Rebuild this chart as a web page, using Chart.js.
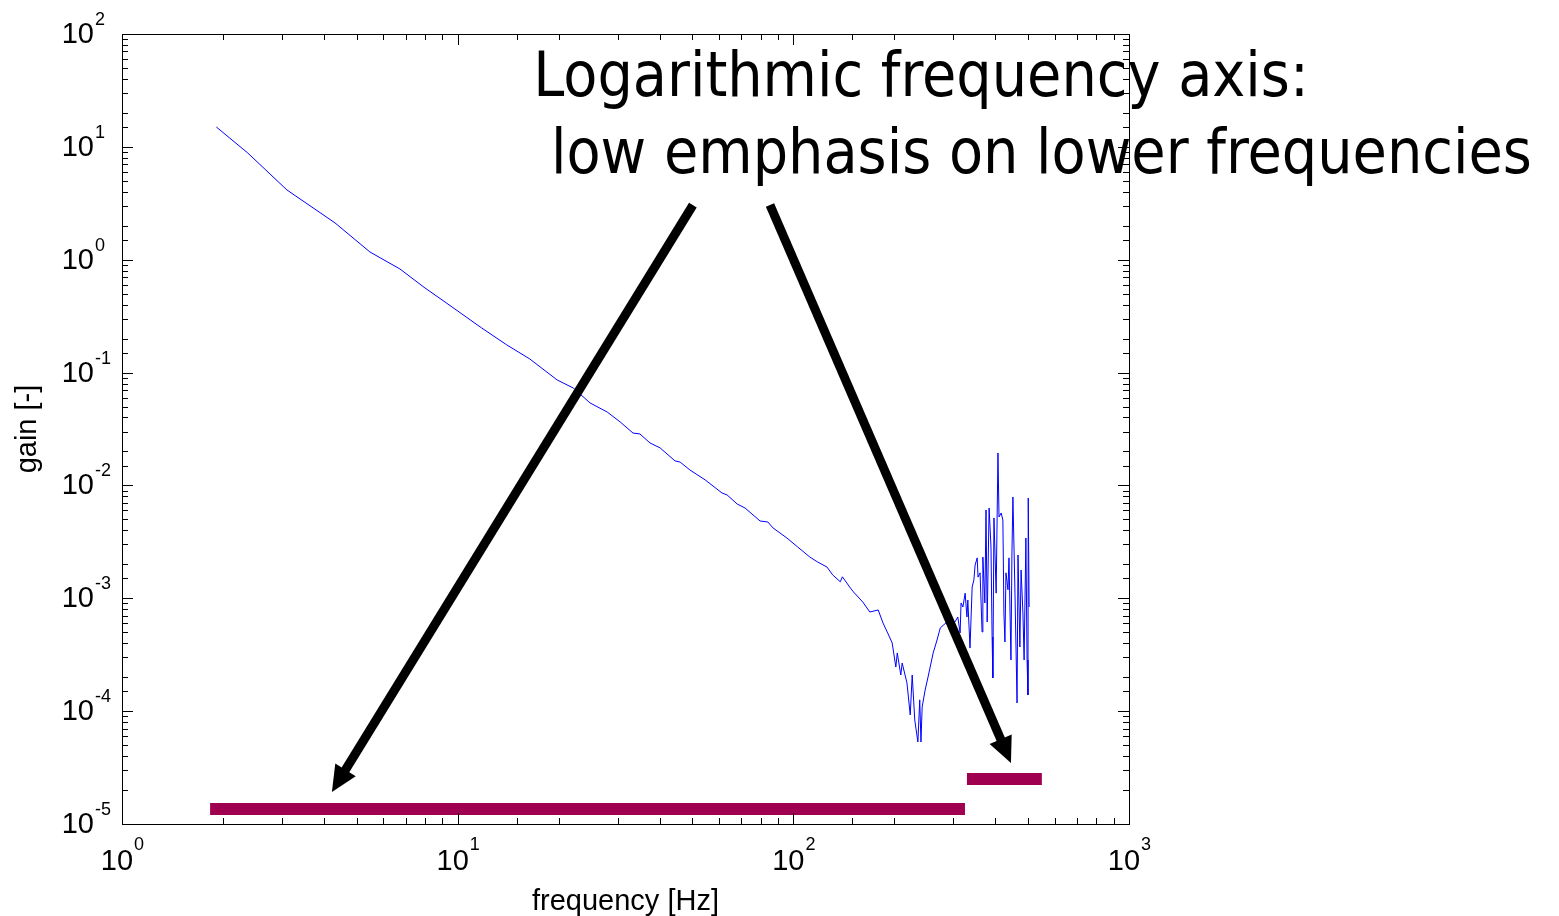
<!DOCTYPE html>
<html>
<head>
<meta charset="utf-8">
<title>gain vs frequency</title>
<script src="https://cdn.jsdelivr.net/npm/chart.js@4.4.1/dist/chart.umd.min.js"></script>
<style>
    html, body { margin: 0; padding: 0; background: #ffffff; }
    #myChart { display: block; }
</style>
</head>
<body>
<canvas id="myChart" width="1559" height="916"></canvas>
<script>

// gain curve (frequency in Hz, gain in -)
const freqHz = [
    1.91, 2.37, 3.10, 4.31, 5.48, 6.73, 7.99, 9.17, 11.8, 14.0,
    16.4, 19.8, 22.1, 24.8, 27.9, 30.5, 33.3, 34.9, 37.4, 40.1,
    44.4, 46.0, 49.2, 54.6, 61.3, 63.5, 68.0, 71.8, 79.6, 84.0,
    87.0, 95.7, 103, 112, 118, 126, 131, 138, 140, 148,
    151, 161, 169, 179, 185, 191, 197, 202, 204, 209,
    211, 218, 223, 226, 230, 235, 238, 240, 242, 247,
    252, 261, 268, 274, 287, 303, 309, 314, 316, 320,
    325, 329, 331, 336, 341, 345, 348, 353, 355, 360,
    365, 367, 372, 375, 378, 383, 388, 391, 393, 396,
    402, 407, 410, 416, 421, 424, 427, 430, 436, 439,
    445, 448, 451, 457, 464, 467, 473, 477, 483, 487,
    493, 497, 500, 501, 504
];
const gain = [
    15.0, 8.82, 4.15, 2.12, 1.17, 0.828, 0.562, 0.422, 0.248, 0.176,
    0.132, 0.0859, 0.0730, 0.0538, 0.0447, 0.0365, 0.0291, 0.0286, 0.0238, 0.0215,
    0.0165, 0.0161, 0.0137, 0.0112, 0.00857, 0.00823, 0.00685, 0.00631, 0.00484, 0.00474,
    0.00420, 0.00342, 0.00285, 0.00232, 0.00210, 0.00189, 0.00161, 0.00140, 0.00155, 0.00123,
    0.00114, 0.000927, 0.000756, 0.000788, 0.000604, 0.000493, 0.000402, 0.000246, 0.000328, 0.000209,
    0.000267, 0.000178, 0.0000925, 0.000209, 0.0000835, 0.0000533, 0.000126, 0.0000533, 0.000109, 0.000154,
    0.000201, 0.000328, 0.000427, 0.000546, 0.000617, 0.000617, 0.000683, 0.000493, 0.000909, 0.000837,
    0.00111, 0.000683, 0.000966, 0.000363, 0.00126, 0.00145, 0.00197, 0.00228, 0.00154, 0.00168,
    0.000503, 0.00232, 0.000909, 0.00606, 0.000617, 0.00631, 0.00285, 0.000454, 0.000197, 0.00515,
    0.00111, 0.0194, 0.00525, 0.00570, 0.00494, 0.000741, 0.000410, 0.00168, 0.00119, 0.00228,
    0.000284, 0.00252, 0.00790, 0.00126, 0.000118, 0.00242, 0.000370, 0.00178, 0.000741, 0.000284,
    0.00342, 0.000284, 0.000139, 0.00774, 0.000837
];

// the two frequency bands drawn under the curve
const lowBandHz = [1.83, 324.6];
const lowBandGain = 1.36e-5;
const highBandHz = [329, 550];
const highBandGain = 2.5e-5;

// decades that get a "10^n" tick label
const xDecades = [0, 1, 2, 3];
const yDecades = [-5, -4, -3, -2, -1, 0, 1, 2];

const xTitle = "frequency [Hz]";
const yTitle = "gain [-]";

// annotation, anchored in data coordinates
const noteLines = ["Logarithmic frequency axis:", " low emphasis on lower frequencies"];
const noteHz = 16.8;
const noteGain = [28.2, 5.87];
const arrowFromHz = [50.2, 85.2];
const arrowFromGain = [3.05, 3.05];
const arrowToHz = [4.22, 445];
const arrowToGain = [1.92e-5, 3.47e-5];

const axisFont = '"Liberation Sans", Arial, sans-serif';
const noteFont = '"DejaVu Sans Condensed", "DejaVu Sans", sans-serif';

const curvePoints = freqHz.map((f, i) => ({ x: f, y: gain[i] }));

function isDecade(v) {
    const l = Math.log10(v);
    return Math.abs(l - Math.round(l)) < 1e-6;
}

function drawArrow(ctx, x1, y1, x2, y2) {
    const ang = Math.atan2(y2 - y1, x2 - x1);
    const headLen = 26;
    const headHalf = 12;
    const bx = x2 - headLen * Math.cos(ang);
    const by = y2 - headLen * Math.sin(ang);

    ctx.lineWidth = 9;
    ctx.lineCap = "butt";
    ctx.beginPath();
    ctx.moveTo(x1, y1);
    ctx.lineTo(bx + Math.cos(ang), by + Math.sin(ang));
    ctx.stroke();

    ctx.beginPath();
    ctx.moveTo(x2, y2);
    ctx.lineTo(bx - headHalf * Math.sin(ang), by + headHalf * Math.cos(ang));
    ctx.lineTo(bx + headHalf * Math.sin(ang), by - headHalf * Math.cos(ang));
    ctx.closePath();
    ctx.fill();
}

const framePlugin = {
    id: "frame",
    afterDraw(chart) {
        const ctx = chart.ctx;
        const area = chart.chartArea;
        const xs = chart.scales.x;
        const ys = chart.scales.y;

        ctx.save();
        ctx.strokeStyle = "#000000";
        ctx.fillStyle = "#000000";
        ctx.lineWidth = 1;

        // inward ticks on all four sides
        ctx.beginPath();
        xs.ticks.forEach(t => {
            const px = Math.round(xs.getPixelForValue(t.value)) + 0.5;
            const len = isDecade(t.value) ? 11 : 6;
            ctx.moveTo(px, area.bottom);
            ctx.lineTo(px, area.bottom - len);
            ctx.moveTo(px, area.top);
            ctx.lineTo(px, area.top + len);
        });
        ys.ticks.forEach(t => {
            const py = Math.round(ys.getPixelForValue(t.value)) + 0.5;
            const len = isDecade(t.value) ? 11 : 6;
            ctx.moveTo(area.left, py);
            ctx.lineTo(area.left + len, py);
            ctx.moveTo(area.right, py);
            ctx.lineTo(area.right - len, py);
        });
        ctx.stroke();

        ctx.strokeRect(
            Math.round(area.left) + 0.5,
            Math.round(area.top) + 0.5,
            Math.round(area.right - area.left),
            Math.round(area.bottom - area.top)
        );

        // "10^n" labels
        ctx.textBaseline = "alphabetic";
        yDecades.forEach(e => {
            const py = ys.getPixelForValue(Math.pow(10, e));
            ctx.font = "29px " + axisFont;
            ctx.textAlign = "right";
            ctx.fillText("10", area.left - 28, py + 9);
            ctx.font = "18px " + axisFont;
            ctx.textAlign = "left";
            ctx.fillText(String(e), area.left - 27, py - 9);
        });

        xDecades.forEach(e => {
            const px = xs.getPixelForValue(Math.pow(10, e));
            ctx.font = "29px " + axisFont;
            const w1 = ctx.measureText("10").width;
            ctx.font = "18px " + axisFont;
            const w2 = ctx.measureText(String(e)).width;
            const start = px - (w1 + w2) / 2;
            ctx.textAlign = "left";
            ctx.font = "29px " + axisFont;
            ctx.fillText("10", start, area.bottom + 46);
            ctx.font = "18px " + axisFont;
            ctx.fillText(String(e), start + w1 + 1, area.bottom + 26);
        });

        // arrows and annotation text
        for (let i = 0; i < arrowFromHz.length; i++) {
            drawArrow(
                ctx,
                xs.getPixelForValue(arrowFromHz[i]),
                ys.getPixelForValue(arrowFromGain[i]),
                xs.getPixelForValue(arrowToHz[i]),
                ys.getPixelForValue(arrowToGain[i])
            );
        }

        ctx.font = "62px " + noteFont;
        ctx.textAlign = "left";
        noteLines.forEach((line, i) => {
            ctx.fillText(line, xs.getPixelForValue(noteHz), ys.getPixelForValue(noteGain[i]));
        });

        ctx.restore();
    }
};

const ctx = document.getElementById("myChart");

const chart = new Chart(ctx, {

    type: "scatter",

    data: {
        datasets: [
            {
                label: "gain",
                data: curvePoints,
                showLine: true,
                borderColor: "#0000ff",
                borderWidth: 1,
                pointRadius: 0,
                tension: 0
            },
            {
                label: "low band",
                data: [{ x: lowBandHz[0], y: lowBandGain }, { x: lowBandHz[1], y: lowBandGain }],
                showLine: true,
                borderColor: "#a00050",
                borderWidth: 12,
                borderCapStyle: "butt",
                pointRadius: 0
            },
            {
                label: "high band",
                data: [{ x: highBandHz[0], y: highBandGain }, { x: highBandHz[1], y: highBandGain }],
                showLine: true,
                borderColor: "#a00050",
                borderWidth: 12,
                borderCapStyle: "butt",
                pointRadius: 0
            }
        ]
    },

    options: {

        responsive: false,
        animation: false,
        events: [],

        layout: {
            padding: { left: 0, top: 34, right: 430, bottom: 0 }
        },

        plugins: {
            legend: { display: false },
            tooltip: { enabled: false }
        },

        scales: {

            x: {
                type: "logarithmic",
                position: "bottom",
                min: 1,
                max: 1000,
                grid: { display: false },
                border: { display: false },
                ticks: { display: false, autoSkip: false },
                title: {
                    display: true,
                    text: xTitle,
                    color: "#000000",
                    font: { family: axisFont, size: 29, lineHeight: 1 },
                    padding: { top: 0, bottom: 0 }
                },
                afterFit: scale => { scale.height = 92; }
            },

            y: {
                type: "logarithmic",
                position: "left",
                min: 1e-5,
                max: 100,
                grid: { display: false },
                border: { display: false },
                ticks: { display: false, autoSkip: false },
                title: {
                    display: true,
                    text: yTitle,
                    color: "#000000",
                    font: { family: axisFont, size: 29 },
                    padding: { top: 11, bottom: 0 }
                },
                afterFit: scale => { scale.width = 122; }
            }
        }
    },

    plugins: [framePlugin]
});

</script>
</body>
</html>
